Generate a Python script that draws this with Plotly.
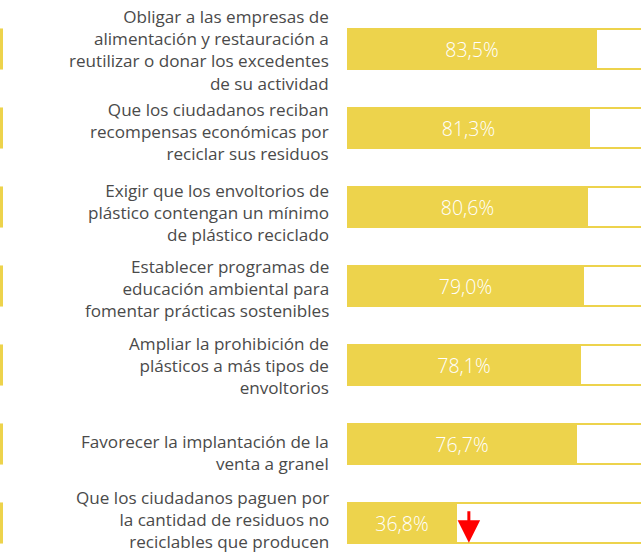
import plotly.graph_objects as go

# Survey results: support for each waste-policy measure (%)
measures = [
    "Obligar a las empresas de<br>alimentación y restauración a<br>reutilizar o donar los excedentes<br>de su actividad",
    "Que los ciudadanos reciban<br>recompensas económicas por<br>reciclar sus residuos",
    "Exigir que los envoltorios de<br>plástico contengan un mínimo<br>de plástico reciclado",
    "Establecer programas de<br>educación ambiental para<br>fomentar prácticas sostenibles",
    "Ampliar la prohibición de<br>plásticos a más tipos de<br>envoltorios",
    "Favorecer la implantación de la<br>venta a granel",
    "Que los ciudadanos paguen por<br>la cantidad de residuos no<br>reciclables que producen",
]
support = [83.5, 81.3, 80.6, 79.0, 78.1, 76.7, 36.8]
full_scale = [100] * len(support)

# vertical nudge of each text block relative to its bar (px, + = down)
label_nudge = [1, 3, 5, 2, 0, 8, -4]

YELLOW = "#EDD34C"
TEXT = "#4a4a4a"
FONT = "Open Sans"

W, H = 641, 556
LEFT = 347
PX_PER_PCT = 2.994
ROW_PX = 79
FIRST_ROW_PX = 49

pos = list(range(len(support)))
labels = [f"{v:.1f}".replace(".", ",") + "%" for v in support]

fig = go.Figure()

# white track with yellow outline (100%)
fig.add_trace(go.Bar(
    x=full_scale, y=pos, orientation="h", width=0.5,
    marker=dict(color="white", line=dict(color=YELLOW, width=2)),
    hoverinfo="skip", showlegend=False,
))

# filled value bar
fig.add_trace(go.Bar(
    x=support, y=pos, orientation="h", width=0.52,
    marker=dict(color=YELLOW, line=dict(width=0)),
    text=labels, textposition="inside", insidetextanchor="middle",
    textfont=dict(family=FONT, size=19.5, color="white", weight=300),
    showlegend=False,
))

plot_w = W - LEFT
x_max = plot_w / PX_PER_PCT
y_top = -FIRST_ROW_PX / ROW_PX
y_bot = (H - FIRST_ROW_PX) / ROW_PX

annotations = []
shapes = []
for i, txt in enumerate(measures):
    annotations.append(dict(
        x=0, xref="paper", y=i, yref="y", text=txt, showarrow=False,
        xanchor="right", yanchor="middle", align="right",
        xshift=-17, yshift=-label_nudge[i], borderpad=0,
        font=dict(family=FONT, size=17.1, color=TEXT),
    ))
    # thin accent mark at the far left of each row
    shapes.append(dict(
        type="rect", xref="paper", yref="y",
        x0=-LEFT / plot_w, x1=-(LEFT - 3) / plot_w,
        y0=i - 0.26, y1=i + 0.26,
        fillcolor=YELLOW, line=dict(width=0), layer="above",
    ))

# downward arrow next to the lowest bar
last = len(support) - 1
annotations.append(dict(
    x=support[last] + 3.9, y=last + 0.25, xref="x", yref="y",
    ax=0, ay=-33, axref="pixel", ayref="pixel",
    showarrow=True, arrowhead=2, arrowsize=1.5, arrowwidth=3,
    arrowcolor="#ff0000", text="",
))

fig.update_layout(
    width=W, height=H,
    margin=dict(l=LEFT, r=0, t=0, b=0),
    paper_bgcolor="white", plot_bgcolor="white",
    barmode="overlay", bargap=0,
    xaxis=dict(range=[0, x_max], visible=False, fixedrange=True),
    yaxis=dict(range=[y_bot, y_top], visible=False, fixedrange=True),
    annotations=annotations, shapes=shapes,
    uniformtext=dict(minsize=10, mode="show"),
)

fig.write_html("out.html")
